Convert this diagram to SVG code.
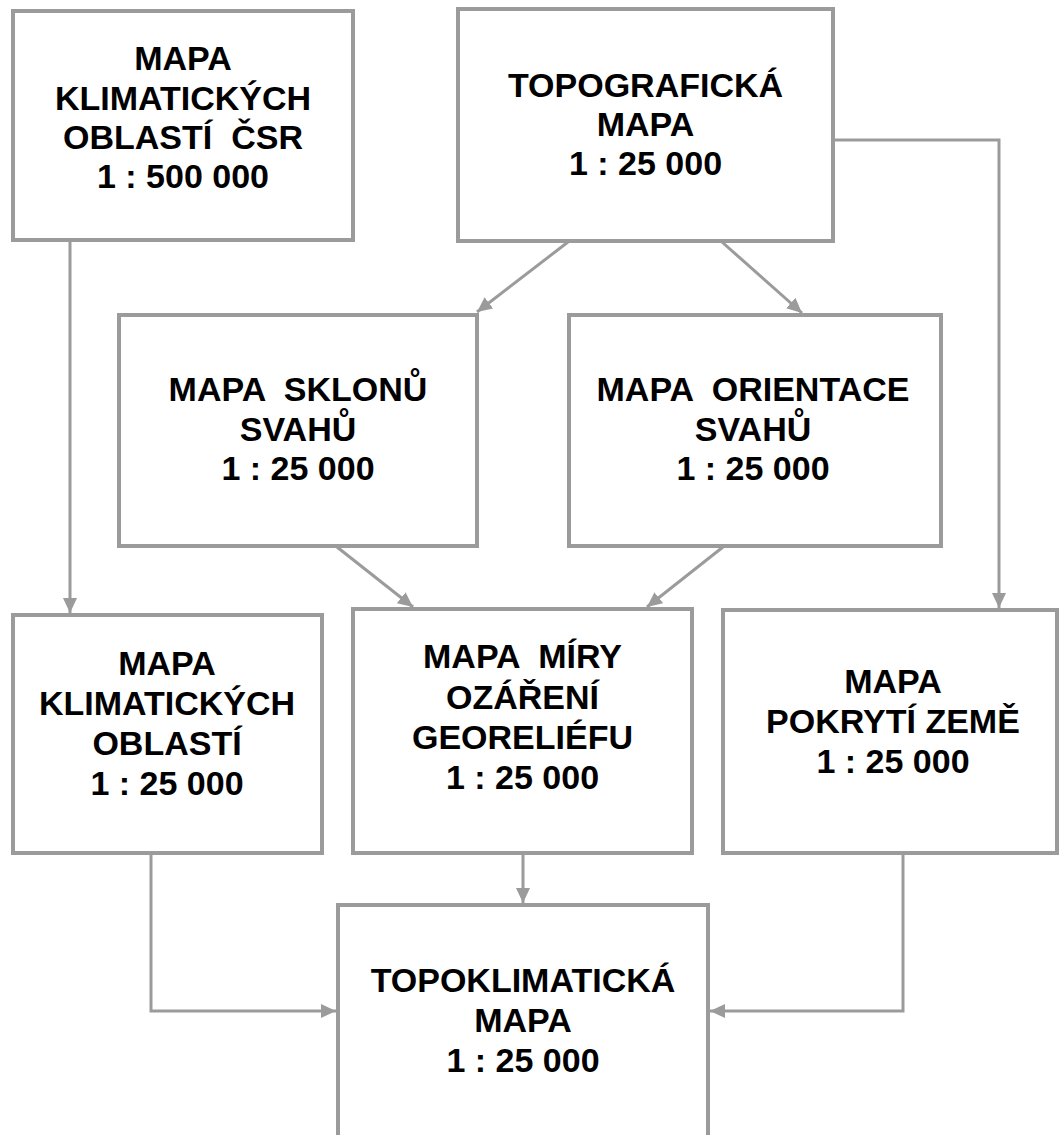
<svg xmlns="http://www.w3.org/2000/svg" width="1059" height="1135" viewBox="0 0 1059 1135">
  <style>
    .box { fill: #ffffff; stroke: #9b9b9b; stroke-width: 4; }
    .lbl { font-family: "Liberation Sans", Arial, sans-serif; font-weight: bold; font-size: 34px; fill: #000000; text-anchor: middle; white-space: pre; }
    .conn { fill: none; stroke: #9b9b9b; stroke-width: 3; }
  </style>
  <defs>
    <marker id="arrow" markerUnits="userSpaceOnUse" markerWidth="16" markerHeight="16" viewBox="0 0 16 16" refX="15" refY="8" orient="auto">
      <path d="M0,1 L15,8 L0,15 Z" fill="#9b9b9b"/>
    </marker>
  </defs>
  <rect width="1059" height="1135" fill="#ffffff"/>

  <g id="connectors">
    <line class="conn" x1="70" y1="241" x2="70" y2="613" marker-end="url(#arrow)"/>
    <line class="conn" x1="568" y1="242" x2="477" y2="312" marker-end="url(#arrow)"/>
    <line class="conn" x1="722" y1="242" x2="802" y2="313" marker-end="url(#arrow)"/>
    <polyline class="conn" points="833,140 999,140 999,608" marker-end="url(#arrow)"/>
    <line class="conn" x1="337" y1="547" x2="413" y2="607" marker-end="url(#arrow)"/>
    <line class="conn" x1="723" y1="547" x2="647" y2="607" marker-end="url(#arrow)"/>
    <polyline class="conn" points="151,854 151,1011 336,1011" marker-end="url(#arrow)"/>
    <line class="conn" x1="523" y1="854" x2="523" y2="903" marker-end="url(#arrow)"/>
    <polyline class="conn" points="903,854 903,1011 710,1011" marker-end="url(#arrow)"/>
  </g>

  <g id="node-klima-csr">
    <rect class="box" x="13" y="11" width="340" height="229"/>
    <text class="lbl" x="183" y="70">MAPA</text>
    <text class="lbl" x="183" y="110">KLIMATICKÝCH</text>
    <text class="lbl" x="183" y="149">OBLASTÍ  ČSR</text>
    <text class="lbl" x="183" y="188">1 : 500 000</text>
  </g>

  <g id="node-topograficka">
    <rect class="box" x="458" y="9" width="375" height="232"/>
    <text class="lbl" x="645.5" y="97">TOPOGRAFICKÁ</text>
    <text class="lbl" x="645.5" y="136">MAPA</text>
    <text class="lbl" x="645.5" y="175">1 : 25 000</text>
  </g>

  <g id="node-sklony">
    <rect class="box" x="119" y="315" width="358" height="231"/>
    <text class="lbl" x="298" y="401">MAPA  SKLONŮ</text>
    <text class="lbl" x="298" y="441">SVAHŮ</text>
    <text class="lbl" x="298" y="480">1 : 25 000</text>
  </g>

  <g id="node-orientace">
    <rect class="box" x="569" y="315" width="372" height="231"/>
    <text class="lbl" x="753" y="401">MAPA  ORIENTACE</text>
    <text class="lbl" x="753" y="441">SVAHŮ</text>
    <text class="lbl" x="753" y="480">1 : 25 000</text>
  </g>

  <g id="node-klima">
    <rect class="box" x="13" y="615" width="309" height="238"/>
    <text class="lbl" x="167" y="675">MAPA</text>
    <text class="lbl" x="167" y="715">KLIMATICKÝCH</text>
    <text class="lbl" x="167" y="755">OBLASTÍ</text>
    <text class="lbl" x="167" y="795">1 : 25 000</text>
  </g>

  <g id="node-ozareni">
    <rect class="box" x="353" y="609" width="339" height="244"/>
    <text class="lbl" x="522.5" y="668">MAPA  MÍRY</text>
    <text class="lbl" x="522.5" y="709">OZÁŘENÍ</text>
    <text class="lbl" x="522.5" y="749">GEORELIÉFU</text>
    <text class="lbl" x="522.5" y="789">1 : 25 000</text>
  </g>

  <g id="node-pokryti">
    <rect class="box" x="723" y="610" width="334" height="243"/>
    <text class="lbl" x="893" y="693">MAPA</text>
    <text class="lbl" x="893" y="733">POKRYTÍ ZEMĚ</text>
    <text class="lbl" x="893" y="773">1 : 25 000</text>
  </g>

  <g id="node-topoklima">
    <rect class="box" x="338" y="905" width="370" height="250"/>
    <text class="lbl" x="523" y="992">TOPOKLIMATICKÁ</text>
    <text class="lbl" x="523" y="1032">MAPA</text>
    <text class="lbl" x="523" y="1072">1 : 25 000</text>
  </g>
</svg>
